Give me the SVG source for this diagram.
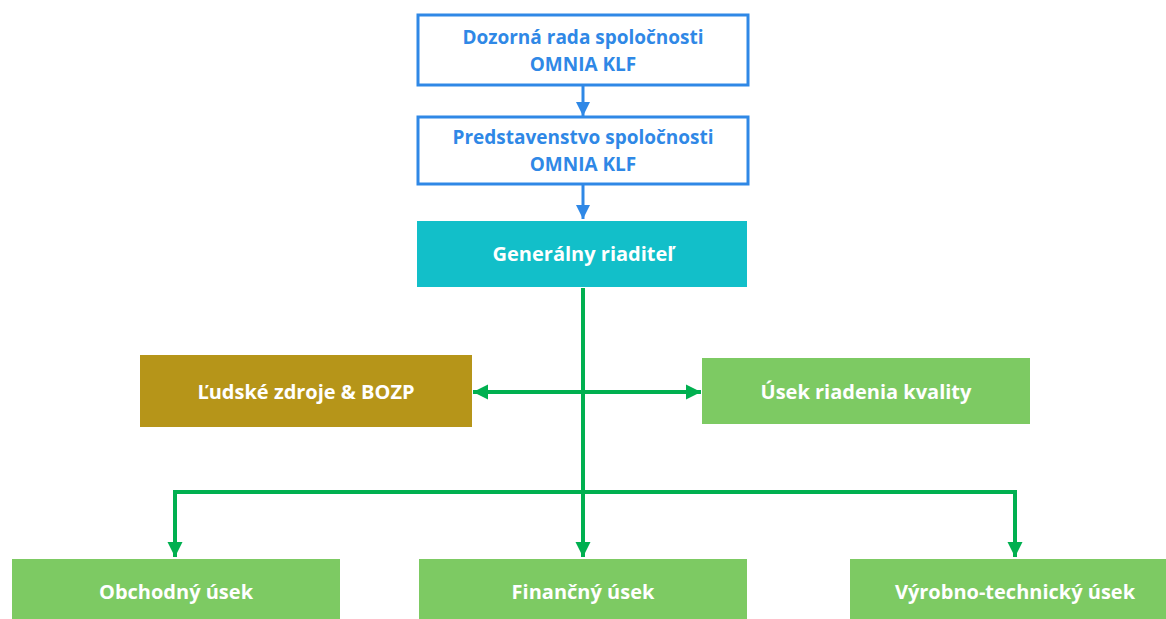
<svg xmlns="http://www.w3.org/2000/svg" width="1166" height="619" viewBox="0 0 1166 619">
<defs>
<style>
.blue{fill:#fff;stroke:#2f88e6;stroke-width:3}
.bt{fill:#2f88e6;font-family:"Open Sans",sans-serif;font-weight:bold;font-size:19px;text-anchor:middle}
.wt{fill:#fff;font-family:"Open Sans",sans-serif;font-weight:bold;font-size:20px;text-anchor:middle}
.green{fill:#7dca63}
.ln{fill:none;stroke:#00b050;stroke-width:4}
.bl{fill:none;stroke:#2f88e6;stroke-width:3}
</style>
<marker id="ga" viewBox="0 0 10 10" refX="10" refY="5" markerWidth="15" markerHeight="16" markerUnits="userSpaceOnUse" orient="auto-start-reverse"><path d="M0,0L10,5L0,10z" fill="#00b050"/></marker>
<marker id="ba" viewBox="0 0 10 10" refX="10" refY="5" markerWidth="14" markerHeight="14" markerUnits="userSpaceOnUse" orient="auto"><path d="M0,0L10,5L0,10z" fill="#2f88e6"/></marker>
</defs>
<rect width="1166" height="619" fill="#fff"/>
<g id="connectors">
<line class="bl" x1="583" y1="86" x2="583" y2="116" marker-end="url(#ba)"/>
<line class="bl" x1="583" y1="185" x2="583" y2="219" marker-end="url(#ba)"/>
<line class="ln" x1="583" y1="288" x2="583" y2="557" marker-end="url(#ga)"/>
<line class="ln" x1="473" y1="392" x2="701" y2="392" marker-start="url(#ga)" marker-end="url(#ga)"/>
<polyline class="ln" points="175,557 175,492 1015,492 1015,557" marker-start="url(#ga)" marker-end="url(#ga)"/>
</g>
<g id="dozorna">
<rect class="blue" x="418" y="15" width="330" height="70"/>
<text class="bt" x="583" y="44">Dozorná rada spoločnosti</text>
<text class="bt" x="583" y="71">OMNIA KLF</text>
</g>
<g id="predstavenstvo">
<rect class="blue" x="418" y="117" width="330" height="67"/>
<text class="bt" x="583" y="144">Predstavenstvo spoločnosti</text>
<text class="bt" x="583" y="171">OMNIA KLF</text>
</g>
<g id="gr">
<rect x="417" y="221" width="330" height="66" fill="#12bfc9"/>
<text class="wt" x="583" y="261">Generálny riaditeľ</text>
</g>
<g id="lz">
<rect x="140" y="355" width="332" height="72" fill="#b69519"/>
<text class="wt" x="306" y="399">Ľudské zdroje &amp; BOZP</text>
</g>
<g id="kvalita">
<rect class="green" x="702" y="358" width="328" height="66"/>
<text class="wt" x="866" y="399">Úsek riadenia kvality</text>
</g>
<g id="obchodny">
<rect class="green" x="12" y="559" width="328" height="60"/>
<text class="wt" x="176" y="599">Obchodný úsek</text>
</g>
<g id="financny">
<rect class="green" x="419" y="559" width="328" height="60"/>
<text class="wt" x="583" y="599">Finančný úsek</text>
</g>
<g id="vyrobno">
<rect class="green" x="850" y="559" width="316" height="60"/>
<text class="wt" x="1015" y="599">Výrobno-technický úsek</text>
</g>
</svg>
